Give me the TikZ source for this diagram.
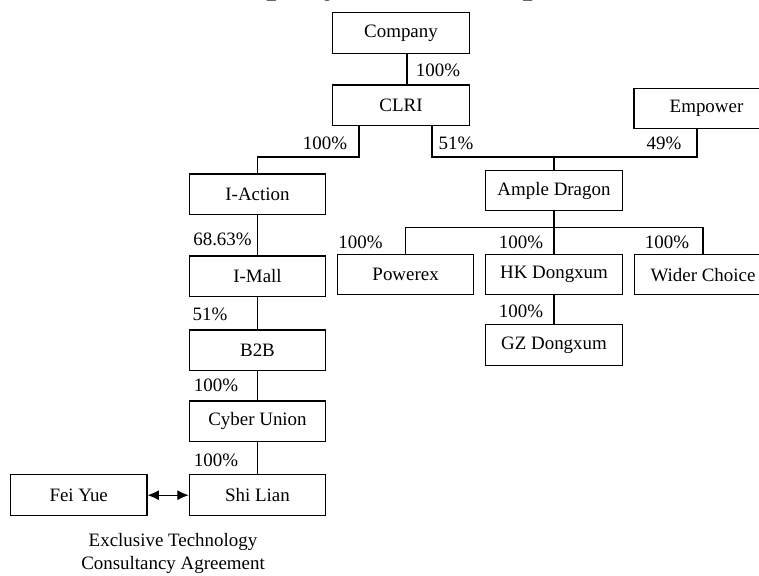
\documentclass[tikz,border=0pt]{standalone}
\usepackage{fontspec}
\setmainfont{Liberation Serif}
\usetikzlibrary{arrows.meta}
\begin{document}
\begin{tikzpicture}[x=0.75pt,y=-0.75pt,
  every node/.style={font=\fontsize{14.2}{17}\selectfont},
  entity/.style={draw, line width=0.8pt, minimum width=102.4pt, minimum height=30.5pt, inner sep=0pt},
  pct/.style={inner sep=0pt},
  link/.style={line width=0.8pt}]
\useasboundingbox (0,0) rectangle (759,575);
% title (only its descenders fall inside the picture)
\node[anchor=base west, inner sep=0pt, font=\bfseries\fontsize{26.7}{30}\selectfont] (title) at (193,-6.5) {Company Relationship};
% entities
\node[entity] (company) at (401,33) {Company};
\node[entity] (clri) at (401,105.3) {CLRI};
\node[entity, minimum width=108.75pt] (empower) at (706.5,108.5) {Empower};
\node[entity] (iaction) at (257.5,194.3) {I-Action};
\node[entity] (imall) at (257.5,276.3) {I-Mall};
\node[entity] (b2b) at (257.5,350.3) {B2B};
\node[entity] (cyber) at (257.5,421.3) {Cyber Union};
\node[entity] (shilian) at (257.5,495.2) {Shi Lian};
\node[entity] (feiyue) at (78.7,495.2) {Fei Yue};
\node[entity] (ample) at (554,190.5) {Ample Dragon};
\node[entity] (powerex) at (405.6,274.6) {Powerex};
\node[entity] (hk) at (554,274.6) {HK Dongxum};
\node[entity] (wider) at (703,274.6) {Wider Choice};
\node[entity] (gz) at (554,345) {GZ Dongxum};
% junction points
\coordinate (cl) at (407,0);
\coordinate (bL) at (359,157);
\coordinate (bR) at (432,157);
\coordinate (bE) at (697,157);
\coordinate (bA) at (554,227.3);
% connectors
\draw[link] (company.south -| cl) -- (clri.north -| cl);
\draw[link] (clri.south -| bL) -- (bL) -| (iaction.north);
\draw[link] (clri.south -| bR) -- (bR) -- (bE) -- (empower.south -| bE);
\draw[link] (ample.north) -- (ample.north |- bR);
\draw[link] (ample.south) -- (hk.north);
\draw[link] (powerex.north) -- (powerex.north |- bA) -- (wider.north |- bA) -- (wider.north);
\draw[link] (hk.south) -- (gz.north);
\draw[link] (iaction.south) -- (imall.north);
\draw[link] (imall.south) -- (b2b.north);
\draw[link] (b2b.south) -- (cyber.north);
\draw[link] (cyber.south) -- (shilian.north);
\draw[link, {Latex[length=8.5pt,width=7.5pt]}-{Latex[length=8.5pt,width=7.5pt]}] (feiyue.east) -- (shilian.west);
% percentages
\node[pct] (p1) at (438,70) {100\%};
\node[pct] (p2) at (325,143.5) {100\%};
\node[pct] (p3) at (456,143.5) {51\%};
\node[pct] (p4) at (664,143.5) {49\%};
\node[pct] (p5) at (222.5,239) {68.63\%};
\node[pct] (p6) at (210,314) {51\%};
\node[pct] (p7) at (216,385) {100\%};
\node[pct] (p8) at (216,460) {100\%};
\node[pct] (p9) at (360.5,242.7) {100\%};
\node[pct] (p10) at (521,242.7) {100\%};
\node[pct] (p11) at (667,242.7) {100\%};
\node[pct] (p12) at (521,311.7) {100\%};
% agreement note
\node[align=center, inner sep=0pt, font=\fontsize{14.2}{17.25}\selectfont] (note) at (173,553.5) {Exclusive Technology\\Consultancy Agreement};
\end{tikzpicture}
\end{document}
